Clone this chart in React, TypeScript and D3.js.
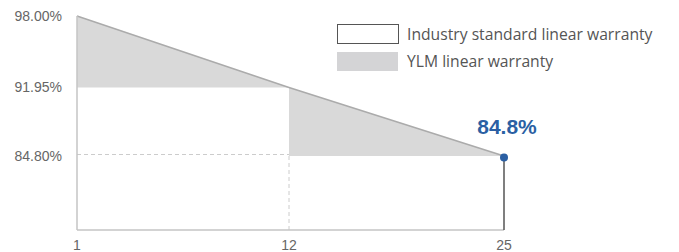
import React, { useRef, useEffect } from "react";
import * as d3 from "d3";

// warranty curve (year -> % of rated output)
const years = [1, 12, 25];
const ylmValues = [98, 91.95, 84.8];
const industrySteps = [91.95, 84.8];
const yTicks = [98, 91.95, 84.8];
const legendLabels = ["Industry standard linear warranty", "YLM linear warranty"];
const endLabel = "84.8%";

const W = 679;
const H = 252;

const App = () => {
  const svgRef = useRef<SVGSVGElement>(null);

  useEffect(() => {
    const svg = d3.select(svgRef.current);
    svg.selectAll("*").remove();

    const left = 77;
    const right = 504;
    const top = 16;
    const bottom = 230;

    // the picture isn't to scale, so use piecewise scales
    const x = d3
      .scaleLinear()
      .domain(years)
      .range([left, left + (right - left) * 0.4965, right]);
    const y = d3
      .scaleLinear()
      .domain([ylmValues[0], ylmValues[1], ylmValues[2]])
      .range([top, top + 71.5, top + 140]);

    const grey = "#d9d9d9";
    const axisCol = "#c4c4c4";
    const textCol = "#666";

    // shaded gap between YLM line and industry step
    const poly: [number, number][] = [
      [years[0], ylmValues[0]],
      [years[1], ylmValues[1]],
      [years[2], ylmValues[2]],
      [years[1], industrySteps[1]],
      [years[1], industrySteps[0]],
      [years[0], industrySteps[0]],
    ];
    svg
      .append("path")
      .attr("d", d3.line().x((d) => x(d[0])).y((d) => y(d[1]))(poly) + "Z")
      .attr("fill", grey);

    // YLM line
    svg
      .append("path")
      .datum(years.map((yr, i) => [yr, ylmValues[i]] as [number, number]))
      .attr("d", d3.line().x((d) => x(d[0])).y((d) => y(d[1])))
      .attr("fill", "none")
      .attr("stroke", "#ababab")
      .attr("stroke-width", 1.5);

    // dashed guides
    svg
      .append("line")
      .attr("x1", x(years[0]))
      .attr("x2", x(years[1]))
      .attr("y1", y(industrySteps[1]) - 1.5)
      .attr("y2", y(industrySteps[1]) - 1.5)
      .attr("stroke", "#ccc")
      .attr("stroke-dasharray", "4,3");
    svg
      .append("line")
      .attr("x1", x(years[1]))
      .attr("x2", x(years[1]))
      .attr("y1", y(industrySteps[1]))
      .attr("y2", bottom)
      .attr("stroke", "#ccc")
      .attr("stroke-dasharray", "4,3");

    // axes
    svg
      .append("line")
      .attr("x1", left)
      .attr("x2", left)
      .attr("y1", top)
      .attr("y2", bottom)
      .attr("stroke", axisCol)
      .attr("stroke-width", 1.5);
    svg
      .append("line")
      .attr("x1", left)
      .attr("x2", right)
      .attr("y1", bottom)
      .attr("y2", bottom)
      .attr("stroke", axisCol)
      .attr("stroke-width", 1.5);

    // end marker
    const last = years.length - 1;
    svg
      .append("line")
      .attr("x1", x(years[last]))
      .attr("x2", x(years[last]))
      .attr("y1", y(ylmValues[last]))
      .attr("y2", bottom)
      .attr("stroke", "#555")
      .attr("stroke-width", 1.5);
    svg
      .append("circle")
      .attr("cx", x(years[last]))
      .attr("cy", y(ylmValues[last]) + 1.5)
      .attr("r", 4)
      .attr("fill", "#2b5fa3");
    svg
      .append("text")
      .attr("x", x(years[last]) + 3)
      .attr("y", y(ylmValues[last]) - 22)
      .attr("text-anchor", "middle")
      .style("font-family", "'Liberation Sans', Arial, sans-serif")
      .style("font-weight", "bold")
      .style("font-size", "21px")
      .attr("fill", "#2b5fa3")
      .text(endLabel);

    // y tick labels
    svg
      .selectAll(".ytick")
      .data(yTicks)
      .join("text")
      .attr("x", 62)
      .attr("y", (d) => y(d))
      .attr("dy", "0.35em")
      .attr("text-anchor", "end")
      .style("font-family", "'Liberation Sans', Arial, sans-serif")
      .style("font-size", "14px")
      .attr("fill", textCol)
      .text((d) => d.toFixed(2) + "%");

    // x tick labels
    svg
      .selectAll(".xtick")
      .data(years)
      .join("text")
      .attr("x", (d) => x(d))
      .attr("y", bottom + 20)
      .attr("text-anchor", "middle")
      .style("font-family", "'Liberation Sans', Arial, sans-serif")
      .style("font-size", "14px")
      .attr("fill", textCol)
      .text((d) => d);

    // legend
    const lg = svg.append("g").attr("transform", "translate(337,24)");
    legendLabels.forEach((label, i) => {
      lg.append("rect")
        .attr("x", i === 0 ? 0.5 : 0)
        .attr("y", i * 28 + (i === 0 ? 0.5 : 0))
        .attr("width", 61)
        .attr("height", 19)
        .attr("fill", i === 0 ? "#fff" : "#d4d4d6")
        .attr("stroke", i === 0 ? "#555" : "none");
      lg.append("text")
        .attr("x", 70)
        .attr("y", i * 28 + 10)
        .attr("dy", "0.35em")
        .style("font-family", "'Open Sans', sans-serif")
        .style("font-size", "15.7px")
        .attr("fill", "#555")
        .text(label);
    });
  }, []);

  return (
    <svg
      ref={svgRef}
      width={W}
      height={H}
      style={{ position: "absolute", left: 0, top: 0, background: "#fff" }}
    />
  );
};

export default App;
